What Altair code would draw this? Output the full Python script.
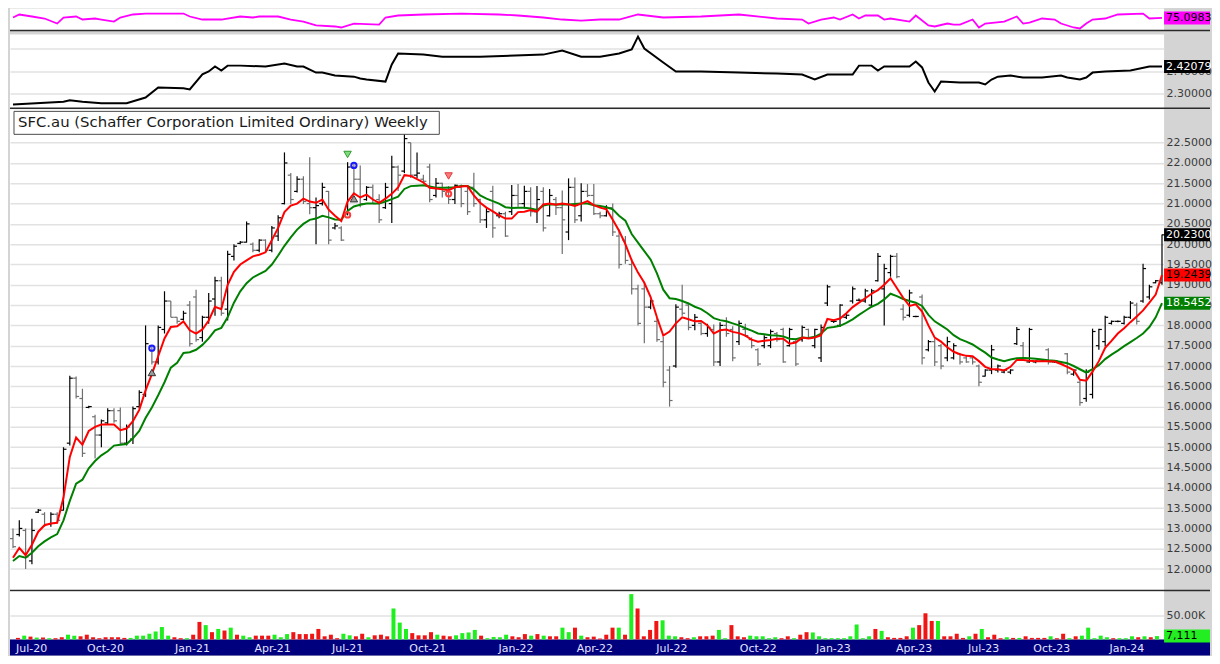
import altair as alt
import pandas as pd

# ---------------- weekly OHLC (bar index 0..182) ----------------
hi = [13.0,13.2,13.0,13.24,13.48,13.4,13.4,13.4,15.0,16.76,
      16.74,16.44,16.02,15.8,15.68,15.96,15.96,15.98,15.56,16.0,
      16.4,18.0,17.52,18.0,18.84,18.6,18.2,18.36,18.6,18.88,
      18.24,18.8,19.2,19.2,19.84,20.0,20.08,20.56,20.04,20.12,
      20.12,20.45,20.71,22.26,21.75,21.67,21.67,22.14,21.15,21.51,
      21.31,20.52,20.44,22.02,21.98,21.94,21.43,21.47,21.23,21.51,
      22.18,21.94,22.8,22.5,22.26,21.71,21.98,21.63,21.51,21.43,
      21.47,21.47,21.42,21.76,21.12,20.9,21.44,20.8,20.8,21.46,
      21.48,21.44,21.4,21.43,21.4,21.36,21.16,21.32,21.62,21.64,
      21.5,21.48,21.48,20.8,20.96,21.0,20.36,20.2,19.64,19.0,
      19.04,18.64,18.18,17.72,17.0,18.52,19.0,18.56,18.28,18.08,
      18.04,18.02,18.08,18.2,17.98,18.12,18.04,17.7,17.44,17.76,
      17.9,17.84,17.94,17.94,17.68,18.0,17.92,17.92,18.02,19.0,
      18.14,18.52,18.28,18.96,18.66,18.9,18.9,19.78,19.52,19.74,
      19.78,18.52,18.88,18.24,18.76,17.64,17.68,17.54,17.72,17.56,
      17.32,17.24,17.22,17.04,16.92,17.52,17.04,16.92,16.92,17.96,
      17.59,17.94,17.14,17.16,17.44,17.14,17.12,17.32,16.92,16.64,
      16.92,17.92,17.92,18.24,18.12,18.12,18.24,18.6,18.56,19.52,
      19.0,19.12,20.24]
lo = [12.52,12.8,12.0,12.12,13.38,13.04,13.04,13.16,13.44,15.04,
      16.2,14.76,15.96,14.72,15.0,15.56,15.6,15.08,15.04,15.08,
      15.96,16.24,17.04,17.04,17.8,18.2,18.04,18.12,17.48,17.6,
      17.6,18.04,18.24,18.24,18.12,19.6,20.0,20.04,19.8,19.8,
      19.79,19.8,20.08,20.98,20.99,21.27,20.99,20.74,20.0,20.95,
      20.0,20.36,20.08,20.71,21.23,20.91,21.07,20.99,20.52,20.87,
      20.52,21.31,21.75,21.63,21.63,21.51,21.03,21.15,21.15,20.99,
      20.99,20.91,20.72,20.92,20.52,20.4,20.16,20.64,20.18,20.72,
      20.92,20.88,20.68,20.52,20.31,20.68,20.72,19.76,20.1,20.52,
      20.56,21.16,20.72,20.64,20.68,20.2,19.4,19.52,18.76,18.0,
      17.56,18.4,17.6,16.48,16.0,16.96,18.24,17.88,17.88,17.76,
      17.72,17.0,17.0,17.72,17.12,17.52,17.72,17.44,17.0,17.44,
      17.44,17.6,17.08,17.48,17.0,17.6,17.68,17.44,17.1,18.48,
      18.06,17.96,18.16,18.54,18.6,18.56,18.48,19.08,18.0,19.2,
      19.16,18.12,18.2,18.2,17.04,17.36,17.0,16.92,17.12,17.16,
      17.04,17.08,17.04,16.5,16.74,16.8,16.84,16.82,16.8,17.52,
      17.16,17.08,17.07,17.1,17.04,17.08,17.06,16.8,16.76,16.02,
      16.12,16.2,17.4,17.48,18.02,18.08,18.02,18.16,18.02,18.56,
      18.64,19.04,19.0]
op = [12.75,12.85,12.95,12.2,13.4,13.35,13.1,13.35,13.45,15.1,
      16.7,16.2,15.98,15.75,15.3,15.6,15.9,15.9,15.1,15.2,
      16.0,16.3,17.5,17.1,17.9,18.6,18.2,18.15,18.5,18.7,
      17.7,18.2,18.65,19.1,18.4,19.7,20.02,20.05,20.0,19.85,
      20.1,19.85,20.2,21.0,21.7,21.3,21.6,21.0,20.9,21.0,
      21.3,20.4,20.4,20.75,21.9,21.6,21.1,21.4,21.1,20.9,
      21.0,21.9,21.8,22.5,21.7,21.6,21.9,21.2,21.5,21.4,
      21.1,21.4,21.3,21.4,21.1,20.6,21.3,20.7,20.75,20.8,
      21.2,21.0,21.3,20.8,21.3,20.7,21.1,20.9,20.3,21.4,
      20.7,21.3,21.2,20.75,20.7,20.9,20.2,20.1,19.5,18.9,
      18.9,18.45,18.1,17.6,16.9,17.0,18.4,18.5,18.0,18.05,
      17.8,17.9,17.1,18.0,17.9,17.6,17.9,17.65,17.4,17.5,
      17.5,17.8,17.9,17.5,17.6,17.65,17.9,17.5,17.2,18.55,
      18.1,18.0,18.2,18.6,18.62,18.6,18.5,19.1,18.9,19.3,
      19.7,18.4,18.25,18.22,18.7,17.4,17.6,17.5,17.2,17.2,
      17.3,17.2,17.2,17.0,16.75,16.9,16.9,16.85,16.85,17.55,
      17.5,17.1,17.1,17.12,17.4,17.1,17.1,17.3,16.8,16.6,
      16.2,16.3,17.5,17.6,18.05,18.1,18.05,18.2,18.5,18.6,
      18.7,19.05,19.05]
cl = [12.55,13.0,12.3,12.95,13.45,13.1,13.35,13.2,14.95,16.7,
      16.25,14.85,16.0,15.3,15.65,15.9,15.65,15.1,15.5,15.95,
      16.35,17.55,17.1,17.95,18.6,18.2,18.1,18.3,17.55,17.65,
      18.2,18.6,19.1,18.3,19.75,19.95,20.05,20.5,19.85,20.1,
      19.85,20.4,20.65,22.0,21.1,21.6,21.05,20.9,20.95,21.4,
      20.1,20.45,20.1,21.9,21.6,21.0,21.4,21.0,20.6,21.4,
      21.9,21.7,22.6,21.7,21.75,21.55,21.1,21.5,21.3,21.1,
      21.45,21.0,20.8,21.0,20.6,20.8,20.4,20.75,20.2,21.2,
      21.0,21.3,20.8,21.1,20.4,21.2,20.9,20.6,21.4,20.6,
      21.3,21.2,20.75,20.7,20.9,20.3,19.5,19.6,18.9,18.05,
      18.45,18.6,17.65,16.6,16.15,18.45,18.3,17.95,18.2,17.8,
      17.95,17.1,18.0,17.8,17.2,18.05,17.75,17.5,17.05,17.7,
      17.85,17.65,17.1,17.9,17.05,17.95,17.7,17.9,17.95,18.95,
      18.1,18.5,18.25,18.9,18.62,18.85,18.85,19.7,19.4,19.7,
      19.2,18.2,18.8,18.22,17.2,17.6,17.1,17.0,17.6,17.5,
      17.1,17.1,17.1,16.6,16.9,17.4,17.0,16.9,16.9,17.9,
      17.2,17.9,17.12,17.14,17.1,17.12,17.08,16.85,16.9,16.1,
      16.85,17.85,17.9,18.2,18.1,18.1,18.2,18.55,18.1,19.4,
      18.95,19.1,20.23]

# moving averages
ema_fast = [12.28,12.52,12.34,12.6,12.92,13.08,13.12,13.14,13.76,14.76,
            15.24,15.06,15.4,15.5,15.56,15.56,15.56,15.42,15.46,15.64,
            15.92,16.4,16.8,17.24,17.68,17.96,17.98,18.1,17.88,17.8,
            17.9,18.12,18.46,18.4,19.0,19.32,19.5,
            19.6,19.7,19.74,19.8,20.1,20.4,20.79,20.95,21.0,21.12,
            21.05,21.02,21.1,20.85,20.7,20.57,21.05,21.25,21.15,21.22,
            21.1,21.02,21.12,21.24,21.4,21.7,21.68,21.6,21.52,21.39,
            21.37,21.35,21.33,21.4,21.42,21.43,
            21.2,21.02,20.9,20.81,20.71,20.63,20.63,20.79,20.8,20.84,
            20.8,20.98,21.0,20.97,21.0,20.98,20.94,21.0,21.06,20.96,
            20.9,20.86,20.6,20.33,20.0,19.6,19.3,19.05,18.7,18.2,
            17.75,17.85,18.05,18.2,18.15,18.1,
            18.11,18.0,17.8,17.88,17.9,17.84,17.81,17.75,17.65,17.6,
            17.62,17.64,17.67,17.67,17.55,17.58,17.7,17.68,17.7,17.76,
            18.16,18.13,18.17,18.3,18.45,18.56,18.67,18.78,18.87,19.0,
            19.16,18.92,18.68,18.48,18.52,18.34,
            18.0,17.7,17.6,17.46,17.35,17.29,17.25,17.24,17.12,16.98,
            16.92,16.92,16.89,16.98,17.15,17.15,17.13,17.12,17.12,17.12,
            17.11,17.05,16.98,16.9,16.66,16.64,16.86,17.12,17.45,17.62,
            17.8,17.93,18.08,18.22,18.37,18.56,18.76,19.24]
ema_slow = [12.2,12.32,12.28,12.4,12.56,12.68,12.78,12.86,13.2,13.68,
            14.1,14.2,14.48,14.66,14.8,14.9,15.04,15.06,15.08,15.22,
            15.4,15.72,15.98,16.28,16.6,16.96,17.08,17.32,17.34,17.4,
            17.52,17.68,17.88,17.94,18.2,18.56,18.84,
            19.04,19.18,19.26,19.34,19.5,19.72,19.96,20.17,20.36,20.5,
            20.6,20.63,20.7,20.66,20.61,20.6,20.82,20.93,20.97,21.0,
            21.0,21.0,21.05,21.11,21.17,21.36,21.43,21.44,21.45,21.42,
            21.39,21.39,21.39,21.4,21.43,21.43,
            21.35,21.2,21.12,21.06,21.0,20.91,20.89,20.9,20.9,20.88,
            20.84,20.95,20.98,20.98,20.98,20.98,20.99,21.0,21.0,20.96,
            20.94,20.91,20.86,20.7,20.58,20.25,20.04,19.83,19.62,19.28,
            18.88,18.67,18.65,18.6,18.54,18.46,
            18.4,18.3,18.18,18.13,18.1,18.05,18.0,17.93,17.87,17.8,
            17.78,17.76,17.75,17.73,17.67,17.66,17.7,17.69,17.72,17.8,
            17.94,17.96,17.99,18.06,18.15,18.26,18.36,18.46,18.53,18.64,
            18.78,18.72,18.65,18.6,18.56,18.48,
            18.26,18.1,18.0,17.9,17.76,17.66,17.6,17.53,17.43,17.33,
            17.21,17.16,17.12,17.16,17.19,17.2,17.19,17.18,17.16,17.14,
            17.13,17.1,17.07,17.0,16.92,16.84,16.92,17.02,17.17,17.28,
            17.38,17.49,17.59,17.69,17.8,17.96,18.2,18.55]

# weekly volume (thousands) and bar colour (g = up, r = down)
vol_k = [3.3,8,6,4,4,2.7,2.7,4.7,10,8,
         6.7,10,4.7,2.7,4.7,4.7,4.7,3.3,3.3,8,
         8,12,16.7,26,8,4.7,2.7,2.7,10,36.7,
         30,15.3,22,18.7,24.7,10,8,4.7,8,8,
         8,10,4.7,11.3,15.3,11.3,11.3,12,22,6.7,
         10,2.7,12,8.7,6.7,12,4.7,8.7,10,6.7,
         64.7,35.3,22,13.3,8.7,8.7,15.3,10,8,6.7,
         8.7,13.3,14.7,20,8,2.7,5.3,4.7,10,6.7,
         4.7,11.3,8,11.3,8,6.7,6.7,24.7,15.3,24.7,
         8,4.7,6,2,10,24.7,24.7,10,94.7,64.7,
         6.7,20,38.7,40,8,6.7,4.7,2.7,4.7,6.7,
         6.7,8,20,2.7,30,6.7,4.7,8,6.7,6.7,
         2.7,4.7,2.7,6.7,2.7,10,15.3,14.7,6.7,2.7,
         2.7,2.7,2.7,6.7,31.3,2.7,6.7,22,18,4.7,
         3.3,3.3,6.7,24.7,30,54.7,38.7,38.7,6.7,6.7,
         12,3.3,6.7,12,22,4.7,10,2.7,4.7,3.3,
         3.3,6.7,3.3,3.3,3.3,6.7,2.7,12,2.7,6.7,
         8,24.7,2.7,8,4.7,2.7,2.7,2.7,6.7,4.7,
         6.7,4.7,7.111]
vol_dir = list("rgrgrgrrgg" "rrrrrrrrgg" "gggggrrgrr" "grgrgrggrr"
               "rgggrrrrrr" "rrggrrgrrr" "gggrrrrgrr" "ggggrggggr"
               "rrgrgrrggr" "grrrrrgrgr" "rrrgggrrgr" "rrggrrrggg"
               "ggrrgrrggg" "gggggggrgr" "rrrgrrrgrr" "rrgrgrrrgr"
               "grrrrgrrgr" "gggggrgggr" "grg")

# upper indicator panels (bar index, value)
osc_idx = [0,1,3,5,7,8,10,11,13,14,16,17,19,21,27,28,30,33,36,38,
           39,42,44,46,48,51,52,54,58,59,61,65,71,77,80,84,87,90,93,96,
           99,103,109,115,121,125,126,128,130,131,133,134,135,137,138,139,142,143,145,146,
           148,149,150,152,153,154,157,159,160,161,163,165,166,168,169,170,171,173,175,179,
           180,182]
osc_val = [75.7,80.5,77.3,74.1,66.1,75.7,77.3,72.5,74.1,72.5,69.3,75.7,80.5,82.0,82.0,77.3,72.5,72.5,77.3,75.7,
           77.3,77.3,72.5,69.3,63.0,61.4,59.8,66.1,64.5,75.7,78.9,80.5,82.0,80.5,78.9,75.7,72.5,70.9,72.5,72.5,
           80.5,75.7,77.3,80.5,74.1,72.5,66.1,72.5,75.7,72.5,80.5,74.1,78.9,78.9,72.5,74.1,69.3,78.9,63.0,61.4,
           66.1,64.5,64.5,72.5,59.8,66.1,69.3,77.3,66.1,67.7,74.1,72.5,66.1,59.8,58.2,66.1,72.5,74.1,80.5,82.0,
           74.1,75.1]
vola_idx = [0,8,9,11,14,18,21,23,27,28,30,31,32,33,34,36,40,43,45,46,
            48,49,51,54,55,56,59,60,61,65,68,74,84,87,90,93,96,98,99,100,
            103,105,109,115,121,125,127,129,133,134,136,137,138,142,143,144,145,146,147,150,
            153,154,155,156,158,160,163,166,167,169,170,171,173,177,180,182]
vola_val = [2.252,2.264,2.271,2.264,2.258,2.258,2.283,2.328,2.324,2.319,2.386,2.399,2.421,2.403,2.425,2.425,2.421,2.434,2.421,2.421,
            2.394,2.394,2.381,2.376,2.368,2.363,2.354,2.430,2.479,2.474,2.465,2.465,2.474,2.492,2.465,2.465,2.479,2.497,2.554,2.501,
            2.439,2.399,2.399,2.394,2.390,2.385,2.363,2.385,2.385,2.425,2.425,2.403,2.421,2.421,2.443,2.417,2.350,2.310,2.354,2.350,
            2.350,2.341,2.363,2.376,2.381,2.372,2.372,2.381,2.372,2.363,2.372,2.394,2.399,2.403,2.421,2.4208]

# signal markers
circ_idx = [22, 54, 53, 69]
circ_price = [17.44, 21.94, 20.72, 21.24]
circ_kind = ["buy", "buy", "sell", "sell"]
tup_idx = [22, 54]
tup_price = [16.84, 21.12]
tdn_idx = [53, 69]
tdn_price = [22.21, 21.68]
tdn_kind = ["long", "short"]

# axis labels
x_label_pos = [0.73, 13.9, 27.8, 40.6, 52.6, 65.4, 79.5, 92.1, 104.4, 118.2, 130.2, 143.1, 154.2, 165.1, 177.1]
x_label_txt = ["Jul-20", "Oct-20", "Jan-21", "Apr-21", "Jul-21", "Oct-21", "Jan-22", "Apr-22",
               "Jul-22", "Oct-22", "Jan-23", "Apr-23", "Jul-23", "Oct-23", "Jan-24"]
price_ticks = [12.0,12.5,13.0,13.5,14.0,14.5,15.0,15.5,16.0,16.5,17.0,17.5,18.0,18.5,19.0,19.5,20.0,20.5,21.0,21.5,22.0,22.5]
title_txt = "SFC.au (Schaffer Corporation Limited Ordinary) Weekly"

# ---------------- chart ----------------
N = len(hi)
bars = pd.DataFrame({"i": list(range(N)), "op": op, "hi": hi, "lo": lo, "cl": cl,
                     "fast": ema_fast, "slow": ema_slow, "vol": vol_k, "vdir": vol_dir})
bars["dir"] = ["up" if c >= o else "down" for o, c in zip(op, cl)]

FONT = "DejaVu Sans"
GRID = "#e2e2e2"
LBL = "#3a3a3a"
W = 1156                      # plot width; right gutter keeps total <= 1204 px
RB = W + 46                   # right end of badges / separators
H1, H2, H3, H4 = 22, 74, 482, 48
XS = alt.Scale(domain=[-0.474, 182.33], nice=False, zero=False)
X0 = alt.X("i:Q", scale=XS, axis=None)
one = pd.DataFrame({"a": [0]})


def right_axis(values, fmt=None, expr=None):
    kw = dict(orient="right", values=values, grid=True, gridColor=GRID, gridWidth=1.5,
              ticks=False, domain=False, labelFont=FONT, labelFontSize=11, labelColor=LBL,
              labelPadding=2, title=None)
    if fmt:
        kw["format"] = fmt
    if expr:
        kw["labelExpr"] = expr
    return alt.Axis(**kw)


def divider(h):
    return alt.Chart(one).mark_rule(color="#2a2a2a", strokeWidth=1.5).encode(
        x=alt.value(0), x2=alt.value(RB), y=alt.value(h))


def badge(values, labels, fills, texts, yscale, ax):
    d = pd.DataFrame({"v": values, "label": labels, "k": [str(j) for j in range(len(values))]})
    dom = list(d["k"])
    box = alt.Chart(d).mark_tick(orient="horizontal", size=RB - W, thickness=13, opacity=1).encode(
        x=alt.value((W + RB) / 2), y=alt.Y("v:Q", scale=yscale, axis=ax),
        color=alt.Color("k:N", scale=alt.Scale(domain=dom, range=fills), legend=None))
    txt = alt.Chart(d).mark_text(align="left", baseline="middle", font=FONT, fontSize=11).encode(
        x=alt.value(W + 2), y=alt.Y("v:Q", scale=yscale, axis=ax), text="label:N",
        color=alt.Color("k:N", scale=alt.Scale(domain=dom, range=texts), legend=None))
    return alt.layer(box, txt).resolve_scale(color="independent")


# panel 1: oscillator
ys1 = alt.Scale(domain=[55, 90], nice=False, zero=False)
p1 = alt.layer(
    alt.Chart(pd.DataFrame({"i": osc_idx, "v": osc_val})).mark_line(color="#ff00ff", strokeWidth=1.8).encode(
        x=X0, y=alt.Y("v:Q", scale=ys1, axis=None)),
    badge([75.0983], ["75.0983"], ["#ff00ff"], ["#000000"], ys1, None),
    divider(H1),
).properties(width=W, height=H1)

# panel 2: volatility-type line
ys2 = alt.Scale(domain=[2.2347, 2.5636], nice=False, zero=False)
AX2 = right_axis([2.3, 2.4, 2.5], ".5f", "datum.value < 2.45 ? datum.label : ''")
p2 = alt.layer(
    alt.Chart(pd.DataFrame({"i": vola_idx, "v": vola_val})).mark_line(color="#000000", strokeWidth=2).encode(
        x=X0, y=alt.Y("v:Q", scale=ys2, axis=AX2)),
    badge([2.42079], ["2.42079"], ["#000000"], ["#ffffff"], ys2, AX2),
    divider(H2),
).properties(width=W, height=H2)

# panel 3: price
ys3 = alt.Scale(domain=[11.47, 23.32], nice=False, zero=False)
AX3 = right_axis(price_ticks, ".4f")
dir_color = alt.Color("dir:N", scale=alt.Scale(domain=["up", "down"], range=["#000000", "#6e6e6e"]), legend=None)
base = alt.Chart(bars)
rng = base.mark_rule(strokeWidth=1.2).encode(
    x=X0, y=alt.Y("lo:Q", scale=ys3, axis=AX3), y2="hi:Q", color=dir_color)
opn = base.mark_tick(orient="horizontal", size=3, thickness=1.2, xOffset=-1.5, opacity=1).encode(
    x=X0, y=alt.Y("op:Q", scale=ys3, axis=AX3), color=dir_color)
cls = base.mark_tick(orient="horizontal", size=3, thickness=1.2, xOffset=1.5, opacity=1).encode(
    x=X0, y=alt.Y("cl:Q", scale=ys3, axis=AX3), color=dir_color)
fast = base.mark_line(color="#ff0000", strokeWidth=2).encode(x=X0, y=alt.Y("fast:Q", scale=ys3, axis=AX3))
slow = base.mark_line(color="#008000", strokeWidth=2).encode(x=X0, y=alt.Y("slow:Q", scale=ys3, axis=AX3))
circ = alt.Chart(pd.DataFrame({"i": circ_idx, "p": circ_price, "kind": circ_kind})).mark_point(
    shape="circle", filled=False, size=28, strokeWidth=2, opacity=1).encode(
    x=X0, y=alt.Y("p:Q", scale=ys3, axis=AX3),
    color=alt.Color("kind:N", scale=alt.Scale(domain=["buy", "sell"], range=["#1a1aff", "#ff3b3b"]), legend=None))
tup = alt.Chart(pd.DataFrame({"i": tup_idx, "p": tup_price})).mark_point(
    shape="triangle-up", filled=True, size=55, fill="#9a9a9a", stroke="#303030", strokeWidth=1, opacity=1).encode(
    x=X0, y=alt.Y("p:Q", scale=ys3, axis=AX3))
tdn = alt.Chart(pd.DataFrame({"i": tdn_idx, "p": tdn_price, "kind": tdn_kind})).mark_point(
    shape="triangle-down", filled=True, size=55, strokeWidth=1, opacity=1).encode(
    x=X0, y=alt.Y("p:Q", scale=ys3, axis=AX3),
    fill=alt.Fill("kind:N", scale=alt.Scale(domain=["long", "short"], range=["#7fdc7f", "#ff7b7b"]), legend=None),
    stroke=alt.Stroke("kind:N", scale=alt.Scale(domain=["long", "short"], range=["#2f9a2f", "#e03a3a"]), legend=None))
tbox = alt.Chart(one).mark_rect(fill="#ffffff", stroke="#4a4a4a", strokeWidth=1).encode(
    x=alt.value(4), x2=alt.value(430), y=alt.value(2), y2=alt.value(25))
ttxt = alt.Chart(one).mark_text(align="left", baseline="middle", font=FONT, fontSize=14.9, color="#1a1a1a").encode(
    x=alt.value(8), y=alt.value(14), text=alt.value(title_txt))
p3 = alt.layer(
    rng, opn, cls, slow, fast, circ, tup, tdn, tbox, ttxt,
    badge([20.23, 19.2439, 18.5452], ["20.2300", "19.2439", "18.5452"],
          ["#000000", "#ff0000", "#008000"], ["#ffffff", "#000000", "#ffffff"], ys3, AX3),
    divider(H3),
).resolve_scale(color="independent").properties(width=W, height=H3)

# panel 4: volume
ys4 = alt.Scale(domain=[0, 100], nice=False, zero=True)
AX4 = right_axis([50], None, "'50.00K'")
cond_align = {"condition": {"test": "datum.value < 1", "value": "left"}, "value": "center"}
cond_off = {"condition": {"test": "datum.value < 1", "value": -7}, "value": 0}
lab_expr = " : ".join("datum.value == %s ? '%s'" % (p, t) for p, t in zip(x_label_pos, x_label_txt)) + " : ''"
xaxis = alt.Axis(orient="bottom", values=x_label_pos, labelExpr=lab_expr, grid=False, ticks=False, domain=False,
                 labelFont=FONT, labelFontSize=11, labelColor="#e4e4ff", labelPadding=3, labelFlush=False,
                 labelOverlap=False, labelBound=False, labelAlign=cond_align, labelOffset=cond_off,
                 zindex=1, title=None)
band = alt.Chart(one).mark_rect(fill="#00007e").encode(
    x=alt.value(0), x2=alt.value(RB), y=alt.value(H4), y2=alt.value(H4 + 16))
vbars = base.mark_bar(size=4).encode(
    x=alt.X("i:Q", scale=XS, axis=xaxis),
    y=alt.Y("vol:Q", scale=ys4, axis=AX4),
    color=alt.Color("vdir:N", scale=alt.Scale(domain=["g", "r"], range=["#1fef1f", "#f01515"]), legend=None))
p4 = alt.layer(
    band, vbars,
    badge([7.111], ["7,111"], ["#22ee22"], ["#000000"], ys4, AX4),
).resolve_scale(color="independent").properties(width=W, height=H4)

chart = alt.vconcat(p1, p2, p3, p4, spacing=0).properties(
    padding={"left": 0, "top": 0, "right": 0, "bottom": 0}
).configure(background="#d4d4d4").configure_view(stroke=None, fill="#ffffff")

chart.save("out.html", embed_options={"renderer": "svg", "actions": False})
